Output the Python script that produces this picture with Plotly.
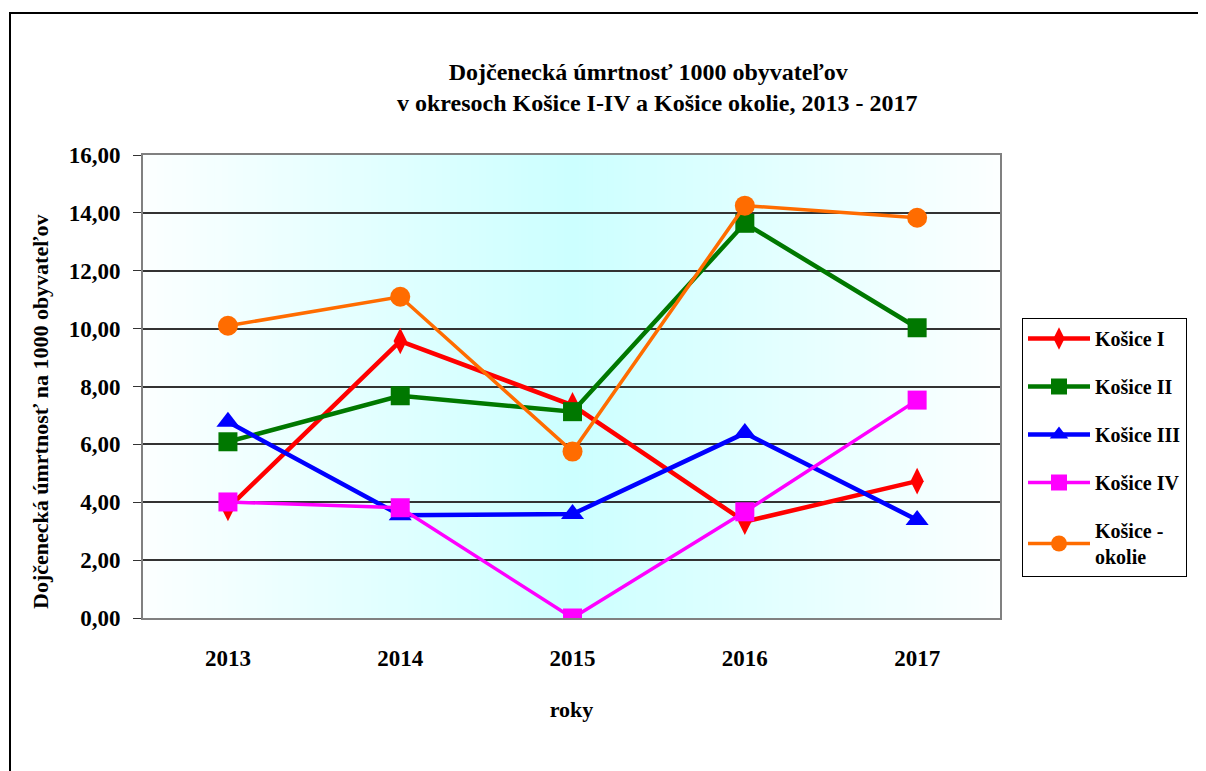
import plotly.graph_objects as go

years = [2013, 2014, 2015, 2016, 2017]
kosice_1 = [3.80, 9.57, 7.35, 3.33, 4.73]
kosice_2 = [6.09, 7.68, 7.13, 13.64, 10.03]
kosice_3 = [6.78, 3.55, 3.59, 6.39, 3.39]
kosice_4 = [4.01, 3.81, 0.00, 3.67, 7.53]
kosice_okolie = [10.10, 11.10, 5.75, 14.25, 13.83]

series = [
    ("Košice I", kosice_1, "#ff0000", "diamond-tall", 19, 4.5),
    ("Košice II", kosice_2, "#007800", "square", 19, 4.5),
    ("Košice III", kosice_3, "#0000ff", "triangle-up", 20, 4.5),
    ("Košice IV", kosice_4, "#ff00ff", "square", 19, 3.5),
    ("Košice -<br>okolie", kosice_okolie, "#ff6c00", "circle", 20, 3.5),
]

FONT = "Liberation Serif"
OFF = 8  # page body margin offset

fig = go.Figure()
for i, (name, vals, col, sym, size, lw) in enumerate(series):
    fig.add_trace(go.Scatter(
        x=years, y=vals, name=name, mode="lines+markers",
        line=dict(color=col, width=lw),
        marker=dict(symbol=sym, size=size, color=col),
        legendgroup=f"g{i}",
    ))

# horizontal gradient background (white -> cyan -> white)
shapes = []
N = 120
for k in range(N):
    t = (k + 0.5) / N
    w = max(0.0, 1 - abs(t - 0.5) / 0.5)
    r = int(round(252 - (252 - 204) * w))
    g = 255
    b = 255
    shapes.append(dict(type="rect", xref="x domain", yref="y domain",
                       x0=k / N, x1=(k + 1) / N + 0.002, y0=0, y1=1,
                       fillcolor=f"rgb({r},{g},{b})", line=dict(width=0),
                       layer="below"))
# outer frame
shapes.append(dict(type="rect", xref="paper", yref="paper",
                   x0=(10 - 143) / 857, x1=(1230 - 143) / 857,
                   y0=(618 - 790) / 463, y1=(618 - 13) / 463,
                   line=dict(color="black", width=2), fillcolor="rgba(0,0,0,0)",
                   layer="above"))

fig.update_layout(
    width=1206, height=771,
    margin=dict(l=143 - OFF, r=206 + OFF, t=155 - OFF, b=153 + OFF),
    paper_bgcolor="white", plot_bgcolor="white",
    separators=", ",
    font=dict(family=FONT, color="black"),
    shapes=shapes,
    showlegend=True,
    legend=dict(
        x=(1022 - 143) / 857, xanchor="left",
        y=(618 - 318) / 463, yanchor="top",
        bordercolor="black", borderwidth=1, bgcolor="white",
        font=dict(family=FONT, size=20, color="black", weight="bold"),
        tracegroupgap=19, itemwidth=62,
    ),
    annotations=[
        dict(
            text="<b>Dojčenecká úmrtnosť 1000 obyvateľov<br>   v okresoch Košice I-IV a Košice okolie, 2013 - 2017</b>",
            xref="paper", yref="paper", x=(648 - 143) / 857, y=(618 - 57) / 463,
            xanchor="center", yanchor="top", showarrow=False, align="center",
            font=dict(family=FONT, size=24, color="black"),
        ),
        dict(
            text="<b>Dojčenecká úmrtnosť na 1000 obyvateľov</b>",
            xref="paper", yref="paper", x=(40 - 143) / 857, y=(618 - 412) / 463,
            xanchor="center", yanchor="middle", showarrow=False, textangle=-90,
            font=dict(family=FONT, size=22, color="black"),
        ),
    ],
)

fig.update_xaxes(
    range=[2012.507, 2017.481], tickvals=years, ticktext=[str(y) for y in years],
    showgrid=False, zeroline=False,
    showline=True, linecolor="#808080", linewidth=2, mirror=True,
    ticks="", ticklabelstandoff=18,
    tickfont=dict(family=FONT, size=23, weight="bold"),
    title=dict(text="<b>roky</b>", font=dict(family=FONT, size=22), standoff=32),
)
fig.update_yaxes(
    range=[0, 16], dtick=2, tickformat=".2f",
    showgrid=True, gridcolor="#333333", gridwidth=1.5, zeroline=False,
    showline=True, linecolor="#808080", linewidth=2, mirror=True,
    ticks="outside", ticklen=8, tickcolor="#333333", ticklabelstandoff=8,
    tickfont=dict(family=FONT, size=23, weight="bold"),
)

fig.write_html("out.html")
